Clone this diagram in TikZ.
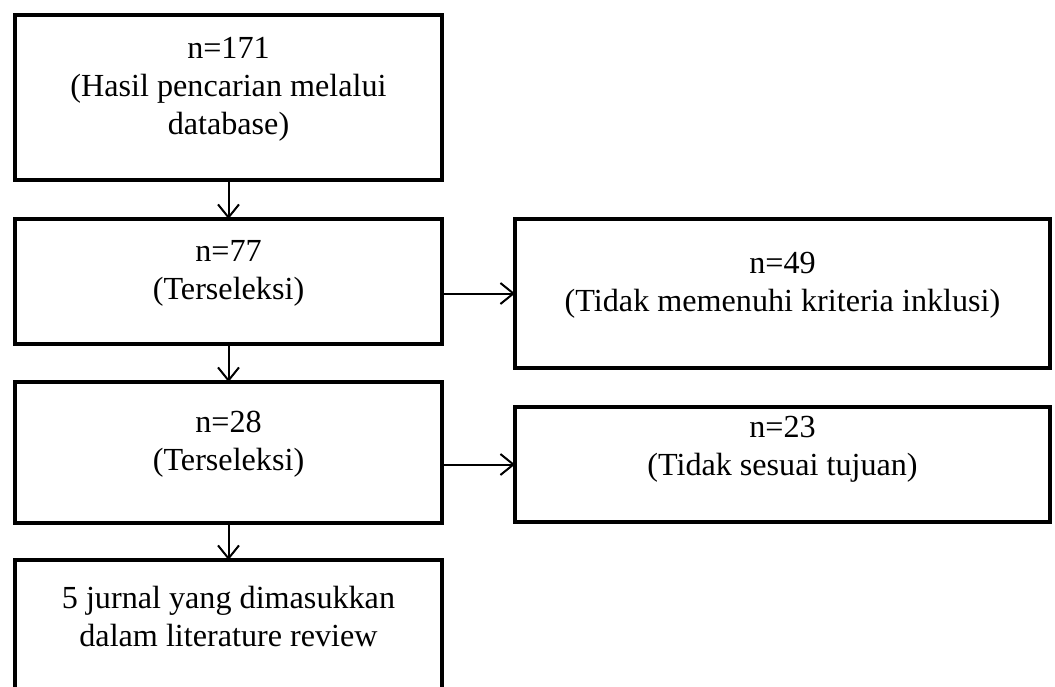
\documentclass[tikz,border=0pt]{standalone}
\usepackage{fontspec}
\setmainfont{Liberation Serif}
\usetikzlibrary{positioning, arrows.meta}

\begin{document}
\begin{tikzpicture}[
    node distance=0.78cm,
    box/.style={draw, line width=0.08cm, outer sep=0pt, minimum width=8.54cm, align=center, text depth=0.45cm, font=\fontsize{18.3}{21.6}\selectfont},
    sidebox/.style={box, minimum width=10.70cm},
    arrow/.style={-{Straight Barb[length=0.26cm, width=0.42cm]}, line width=0.04cm},
]
\useasboundingbox (0,0) rectangle (21.10,-13.74);
\node[box, minimum height=3.30cm, anchor=north west] (hasil) at (0.30,-0.30) {n=171\\(Hasil pencarian melalui\\database)};
\node[box, minimum height=2.50cm, below=of hasil] (sel1) {n=77\\(Terseleksi)};
\node[box, minimum height=2.82cm, below=0.76cm of sel1] (sel2) {n=28\\(Terseleksi)};
\node[box, minimum height=2.70cm, below=0.74cm of sel2] (jurnal) {5 jurnal yang dimasukkan\\dalam literature review};
\node[sidebox, minimum height=2.98cm, right=1.46cm of sel1.north east, anchor=north west] (inklusi) {n=49\\(Tidak memenuhi kriteria inklusi)};
\node[sidebox, minimum height=2.30cm, text depth=0.73cm, below right=0.50cm and 1.46cm of sel2.north east, anchor=north west] (tujuan) {n=23\\(Tidak sesuai tujuan)};
\draw[arrow] (hasil) -- (sel1);
\draw[arrow] (sel1) -- (sel2);
\draw[arrow] (sel2) -- (jurnal);
\draw[arrow] (sel1.east |- inklusi.west) -- (inklusi.west);
\draw[arrow] (sel2.east |- tujuan.west) -- (tujuan.west);
\end{tikzpicture}
\end{document}
